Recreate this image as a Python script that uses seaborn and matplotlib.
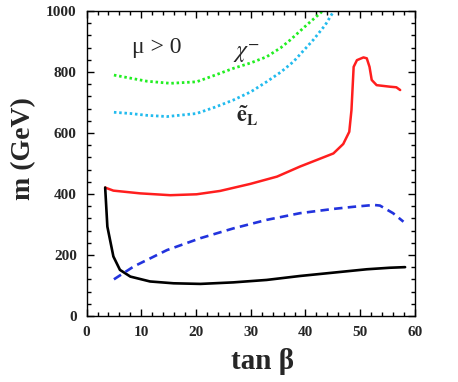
import matplotlib
matplotlib.use("Agg")
import matplotlib.pyplot as plt
from matplotlib.ticker import MultipleLocator
import seaborn as sns
import pandas as pd

# ---- data ----
chi_tb = [5.0, 8.0, 11.0, 15.3, 20.1, 23.5, 26.8, 30.0, 32.9, 35.5, 37.2, 40.2, 43.0]
chi_m = [790, 780, 770, 763, 768, 790, 812, 830, 850, 880, 905, 954, 998]

sel_tb = [5.0, 8.0, 11.0, 14.7, 20.1, 23.5, 26.8, 30.0, 32.9, 35.5, 37.8, 41.4, 43.6, 45.1]
sel_m = [668, 664, 658, 654, 664, 685, 708, 735, 768, 800, 834, 905, 954, 998]

red_tb = [3.4, 4.9, 9.8, 15.3, 20.1, 24.4, 29.9, 34.8, 39.0, 45.1, 46.9, 48.0, 48.4,
          48.8, 49.4, 50.6, 51.2, 51.7, 52.1, 53.0, 55.4, 56.6, 57.3]
red_m = [421, 411, 402, 396, 399, 410, 433, 457, 490, 533, 564, 604, 675,
         817, 839, 848, 845, 817, 774, 757, 752, 750, 741]

blk_tb = [3.4, 3.8, 4.9, 6.1, 8.0, 11.6, 15.9, 20.8, 26.8, 32.9, 39.0, 45.1, 51.2, 55.4, 58.2]
blk_m = [421, 293, 195, 151, 129, 113, 107, 105, 110, 118, 131, 142, 153, 158, 160]

blu_tb = [5.0, 8.6, 14.7, 20.8, 26.8, 32.9, 39.0, 45.1, 48.8, 52.5, 53.6, 56.0, 57.9]
blu_m = [120, 162, 216, 255, 287, 315, 337, 351, 358, 364, 362, 337, 309]

x_ticks = [0, 10, 20, 30, 40, 50, 60]
y_ticks = [0, 200, 400, 600, 800, 1000]

sns.set_style("ticks")
plt.rcParams["font.family"] = ["Liberation Serif", "DejaVu Serif"]
plt.rcParams["mathtext.fontset"] = "stix"

fig = plt.figure(figsize=(4.58, 3.82), dpi=100)
ax = fig.add_axes([0.189, 0.173, 0.717, 0.798])

def draw(x, y, color, ls, lw):
    df = pd.DataFrame({"x": x, "y": y})
    sns.lineplot(data=df, x="x", y="y", ax=ax, color=color, linestyle=ls,
                 linewidth=lw, sort=False, estimator=None, legend=False)

draw(chi_tb, chi_m, "#22ee22", (0, (0.9, 1.0)), 2.0)
draw(sel_tb, sel_m, "#22bbee", (0, (0.9, 1.0)), 2.0)
draw(red_tb, red_m, "#ff1e1e", "-", 1.8)
draw(blk_tb, blk_m, "#000000", "-", 1.9)
draw(blu_tb, blu_m, "#2233dd", (0, (3.2, 2.0)), 1.9)

ax.set_xlim(0, 60)
ax.set_ylim(0, 1000)
ax.set_xticks(x_ticks)
ax.set_yticks(y_ticks)
ax.xaxis.set_minor_locator(MultipleLocator(2))
ax.yaxis.set_minor_locator(MultipleLocator(40))
ax.tick_params(which="both", direction="in", top=True, right=True, width=1.0, color="black")
ax.tick_params(which="major", length=5, pad=7, labelsize=11)
ax.tick_params(which="minor", length=3)
for lab in ax.get_xticklabels() + ax.get_yticklabels():
    lab.set_fontweight("bold")
for s in ax.spines.values():
    s.set_linewidth(1.0)
    s.set_color("black")

ax.set_xlabel("tan β", fontsize=21, fontweight="bold")
ax.set_ylabel("m (GeV)", fontsize=20, fontweight="bold")
ax.xaxis.set_label_coords(0.537, -0.105)
ax.yaxis.set_label_coords(-0.155, 0.55)

ax.text(8.3, 882, "μ > 0", fontsize=17, va="center", ha="left")
ax.text(26.7, 862, r"$\chi^{-}$", fontsize=17, va="center", ha="left")
ax.text(27.3, 655, r"$\mathbf{\tilde{e}_L}$", fontsize=16, va="center", ha="left")

fig.savefig("out.png", dpi=100)
